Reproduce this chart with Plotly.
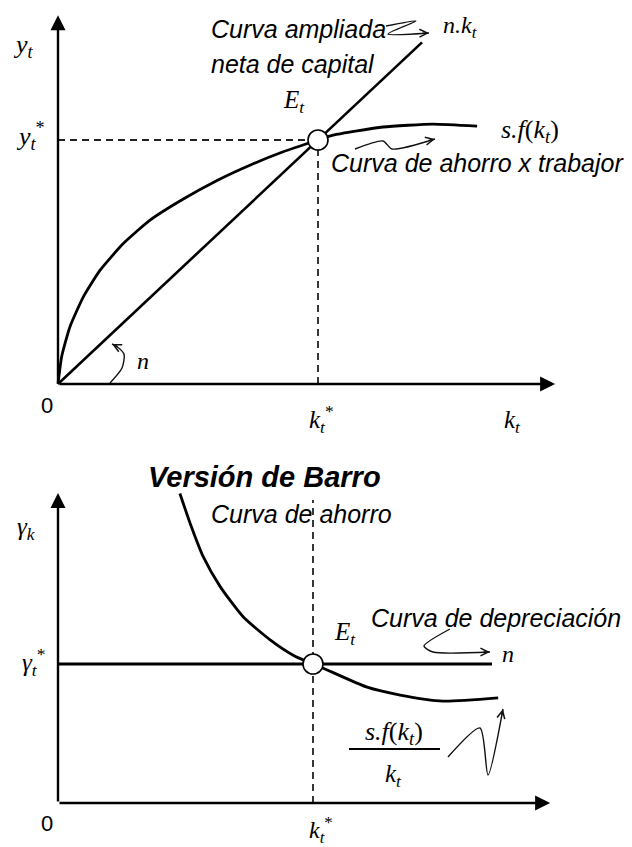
import plotly.graph_objects as go

W, H = 632, 847

# ---------------- data (model units) ----------------
# Top panel (Solow): capital per worker vs. output per worker
k_save = [0, 0.07, 0.23, 0.49, 0.81, 1.26, 1.77, 2.41, 3.05, 3.69, 4.33, 5.0,
          5.29, 6.25, 7.21, 8.06]
y_save = [0, 0.67, 1.41, 2.15, 2.80, 3.46, 4.03, 4.55, 5.0, 5.38, 5.71, 6.0,
          6.12, 6.32, 6.39, 6.34]
k_nk = [0, 7.0]
y_nk = [0, 8.4]
k_star_top = 5.0
y_star = 6.0

# Bottom panel (Barro version): growth rate of capital
k_barro = [2.39, 2.59, 2.85, 3.18, 3.63, 4.16, 4.61, 5.0, 5.20, 6.06, 6.71, 7.55, 8.63]
g_barro = [6.68, 6.04, 5.31, 4.67, 4.02, 3.52, 3.19, 3.0, 2.91, 2.50, 2.33, 2.20, 2.27]
k_dep = [0, 8.51]
g_dep = [3.0, 3.0]
k_star_bot = 5.0
g_star = 3.0

# axis extents (model units)
top_x_end, top_y_end = 9.56, 9.07
bot_x_end, bot_y_end = 9.65, 6.69
bot_dash_top = 6.54

# ---------------- geometry (pixels) ----------------
TOP_O = (58, 384)
TOP_SX, TOP_SY = 52.0, 244 / 6
BOT_O = (58, 803)
BOT_SX, BOT_SY = 51.0, 139 / 3
SPLIT = 440


def top_xy(px, py):
    return (px - TOP_O[0]) / TOP_SX, (TOP_O[1] - py) / TOP_SY


def bot_xy(px, py):
    return (px - BOT_O[0]) / BOT_SX, (BOT_O[1] - py) / BOT_SY


def pp(px, py):
    return px / W, 1 - py / H


SERIF = "Liberation Serif"
SANS = "Liberation Sans"
BLACK = "#000000"

fig = go.Figure()

# ---------------- top panel ----------------
fig.add_trace(go.Scatter(x=[0, k_star_top], y=[y_star, y_star], mode="lines",
                         line=dict(color="#222", width=1.8, dash="7px,5px"),
                         xaxis="x", yaxis="y", hoverinfo="skip"))
fig.add_trace(go.Scatter(x=[k_star_top, k_star_top], y=[0, y_star], mode="lines",
                         line=dict(color="#222", width=1.8, dash="7px,5px"),
                         xaxis="x", yaxis="y", hoverinfo="skip"))
fig.add_trace(go.Scatter(x=k_save, y=y_save, mode="lines",
                         line=dict(color=BLACK, width=2.8, shape="spline", smoothing=0.5),
                         xaxis="x", yaxis="y", hoverinfo="skip"))
fig.add_trace(go.Scatter(x=k_nk, y=y_nk, mode="lines",
                         line=dict(color=BLACK, width=2.6),
                         xaxis="x", yaxis="y", hoverinfo="skip"))
fig.add_trace(go.Scatter(x=[k_star_top], y=[y_star], mode="markers",
                         marker=dict(size=20, color="white", line=dict(color=BLACK, width=1.6)),
                         xaxis="x", yaxis="y", hoverinfo="skip"))

# ---------------- bottom panel ----------------
fig.add_trace(go.Scatter(x=[k_star_bot, k_star_bot], y=[0, bot_dash_top], mode="lines",
                         line=dict(color="#222", width=1.8, dash="7px,5px"),
                         xaxis="x2", yaxis="y2", hoverinfo="skip"))
fig.add_trace(go.Scatter(x=k_dep, y=g_dep, mode="lines",
                         line=dict(color=BLACK, width=3),
                         xaxis="x2", yaxis="y2", hoverinfo="skip"))
fig.add_trace(go.Scatter(x=k_barro, y=g_barro, mode="lines",
                         line=dict(color=BLACK, width=2.8, shape="spline", smoothing=0.6),
                         xaxis="x2", yaxis="y2", hoverinfo="skip"))
fig.add_trace(go.Scatter(x=[k_star_bot], y=[g_star], mode="markers",
                         marker=dict(size=20, color="white", line=dict(color=BLACK, width=1.6)),
                         xaxis="x2", yaxis="y2", hoverinfo="skip"))

# ---------------- decorative squiggle arrows (pixel paths) ----------------
squiggles = [
    ("top", [(386, 26), (416, 21), (388, 34), (429, 33)]),
    ("top", [(355, 149), (383, 141), (392, 149), (435, 139)]),
    ("top", [(110, 383), (122, 368), (124, 354), (116, 346), (112, 344)]),
    ("bot", [(450, 629), (424, 646), (433, 652), (490, 652)]),
    ("bot", [(448, 757), (480, 728), (488, 775), (503, 709)]),
]
annotations = []
for panel, pts in squiggles:
    conv = top_xy if panel == "top" else bot_xy
    xs, ys = zip(*[conv(px, py) for px, py in pts])
    fig.add_trace(go.Scatter(x=list(xs), y=list(ys), mode="lines",
                             line=dict(color="#111", width=1.4, shape="spline", smoothing=0.7),
                             xaxis="x" if panel == "top" else "x2",
                             yaxis="y" if panel == "top" else "y2", hoverinfo="skip"))
    (px1, py1), (px2, py2) = pts[-2], pts[-1]
    dx, dy = px1 - px2, py1 - py2
    n = (dx * dx + dy * dy) ** 0.5
    tx, ty = pp(px2, py2)
    annotations.append(dict(x=tx, y=ty, xref="paper", yref="paper", text="",
                            showarrow=True, ax=dx / n * 8, ay=dy / n * 8,
                            arrowhead=5, arrowsize=1.1, arrowwidth=1.4, arrowcolor="#111"))

# axis arrows
for xr, yr, x0, y0, x1, y1 in [
    ("x", "y", 0, 0, top_x_end, 0),
    ("x", "y", 0, 0, 0, top_y_end),
    ("x2", "y2", 0, 0, bot_x_end, 0),
    ("x2", "y2", 0, 0, 0, bot_y_end),
]:
    annotations.append(dict(x=x1, y=y1, ax=x0, ay=y0, xref=xr, yref=yr, axref=xr, ayref=yr,
                            text="", showarrow=True, arrowhead=2, arrowsize=1.25,
                            arrowwidth=2.4, arrowcolor=BLACK))


def label(text, px, py, font, size, xanchor="center", yanchor="middle"):
    x, y = pp(px, py)
    annotations.append(dict(x=x, y=y, xref="paper", yref="paper", text=text,
                            showarrow=False, xanchor=xanchor, yanchor=yanchor,
                            font=dict(family=font, size=size, color=BLACK)))


# top labels
label("<i>y<sub>t</sub></i>", 23, 46, SERIF, 26)
label("<i>y<sub>t</sub></i><sup>*</sup>", 30, 136, SERIF, 26)
label("0", 47, 405, SANS, 22)
label("<i>k<sub>t</sub></i><sup>*</sup>", 321, 419, SERIF, 25)
label("<i>k<sub>t</sub></i>", 512, 421, SERIF, 25)
label("<i>n</i>", 143, 361, SERIF, 24)
label("<i>E<sub>t</sub></i>", 294, 101, SERIF, 25)
label("<i>n.k<sub>t</sub></i>", 460, 27, SERIF, 24)
label("<i>s.f</i>(<i>k<sub>t</sub></i>)", 530, 131, SERIF, 26)
label("<i>Curva ampliada</i>", 209, 29, SANS, 25, xanchor="left")
label("<i>neta de capital</i>", 209, 64, SANS, 25, xanchor="left")
label("<i>Curva de ahorro x trabajor</i>", 329, 163, SANS, 25, xanchor="left")

# bottom labels
label("<b><i>Versión de Barro</i></b>", 146, 477, SANS, 29, xanchor="left")
label("<i>Curva de ahorro</i>", 209, 514, SANS, 25, xanchor="left")
label("<i>γ<sub>k</sub></i>", 26, 528, SERIF, 25)
label("<i>γ<sub>t</sub></i><sup>*</sup>", 33, 662, SERIF, 25)
label("<i>E<sub>t</sub></i>", 345, 633, SERIF, 25)
label("<i>Curva de depreciación</i>", 369, 618, SANS, 25, xanchor="left")
label("<i>n</i>", 508, 654, SERIF, 24)
label("<i>s.f</i>(<i>k<sub>t</sub></i>)", 394, 733, SERIF, 26)
label("<i>k<sub>t</sub></i>", 393, 775, SERIF, 25)
label("0", 47, 823, SANS, 22)
label("<i>k<sub>t</sub></i><sup>*</sup>", 321, 830, SERIF, 24)

fx0, fy0 = pp(349, 749)
fx1, _ = pp(440, 749)
shapes = [dict(type="line", xref="paper", yref="paper", x0=fx0, x1=fx1, y0=fy0, y1=fy0,
               line=dict(color=BLACK, width=2))]

split_paper = 1 - SPLIT / H
fig.update_layout(
    width=W, height=H,
    margin=dict(l=0, r=0, t=0, b=0),
    paper_bgcolor="white", plot_bgcolor="white",
    showlegend=False,
    xaxis=dict(domain=[0, 1], range=[-TOP_O[0] / TOP_SX, (W - TOP_O[0]) / TOP_SX],
               visible=False, anchor="y", fixedrange=True),
    yaxis=dict(domain=[split_paper, 1],
               range=[(TOP_O[1] - SPLIT) / TOP_SY, TOP_O[1] / TOP_SY],
               visible=False, anchor="x", fixedrange=True),
    xaxis2=dict(domain=[0, 1], range=[-BOT_O[0] / BOT_SX, (W - BOT_O[0]) / BOT_SX],
                visible=False, anchor="y2", fixedrange=True),
    yaxis2=dict(domain=[0, split_paper],
                range=[(BOT_O[1] - H) / BOT_SY, (BOT_O[1] - SPLIT) / BOT_SY],
                visible=False, anchor="x2", fixedrange=True),
    annotations=annotations,
    shapes=shapes,
)

fig.write_html(
    "out.html",
    config={"displayModeBar": False},
    post_script="document.body.style.margin='0';document.body.style.overflow='hidden';",
)
